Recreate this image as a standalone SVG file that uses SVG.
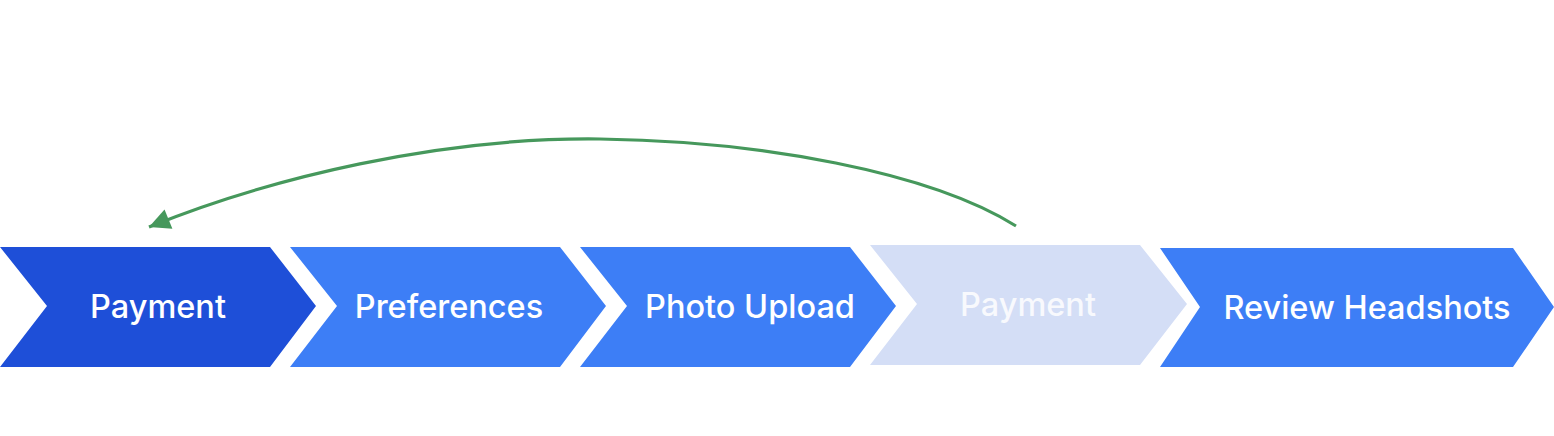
<svg xmlns="http://www.w3.org/2000/svg" width="1554" height="436" viewBox="0 0 1554 436">
<defs>
<style>
.lbl{font-family:Inter,"Liberation Sans",sans-serif;font-size:32.5px;font-weight:500;fill:#ffffff;text-anchor:middle;dominant-baseline:central}
.conn{fill:none;stroke:#46985c;stroke-width:3.2}
</style>
<marker id="ah" viewBox="0 0 10 10" refX="10" refY="5" markerWidth="23" markerHeight="21" markerUnits="userSpaceOnUse" orient="auto">
<path d="M0,0 L10,5 L0,10 z" fill="#46985c"/>
</marker>
</defs>
<rect width="1554" height="436" fill="#ffffff"/>
<g id="node1">
<polygon points="0,247 270,247 316,306 270,367 0,367 47,306" fill="#1e4fd8"/>
<text class="lbl" x="158" y="306">Payment</text>
</g>
<g id="node2">
<polygon points="290,247 560,247 606,306 560,367 290,367 337,306" fill="#3d7ef6"/>
<text class="lbl" x="449" y="306">Preferences</text>
</g>
<g id="node3">
<polygon points="580,247 850,247 896,306 850,367 580,367 627,306" fill="#3d7ef6"/>
<text class="lbl" x="750" y="306">Photo Upload</text>
</g>
<g id="node4">
<polygon points="870,245 1140,245 1187,304 1140,365 870,365 917,304" fill="#d4def6"/>
<text class="lbl" x="1028" y="304" fill-opacity="0.85">Payment</text>
</g>
<g id="node5">
<polygon points="1160,248 1513,248 1554,307 1513,367 1160,367 1200,307" fill="#3d7ef6"/>
<text class="lbl" x="1367" y="307">Review Headshots</text>
</g>
<g id="connectors">
<path class="conn" d="M1016,226 C930,172 760,141 600,139 C440,137 270,178 149,227" marker-end="url(#ah)"/>
</g>
</svg>
